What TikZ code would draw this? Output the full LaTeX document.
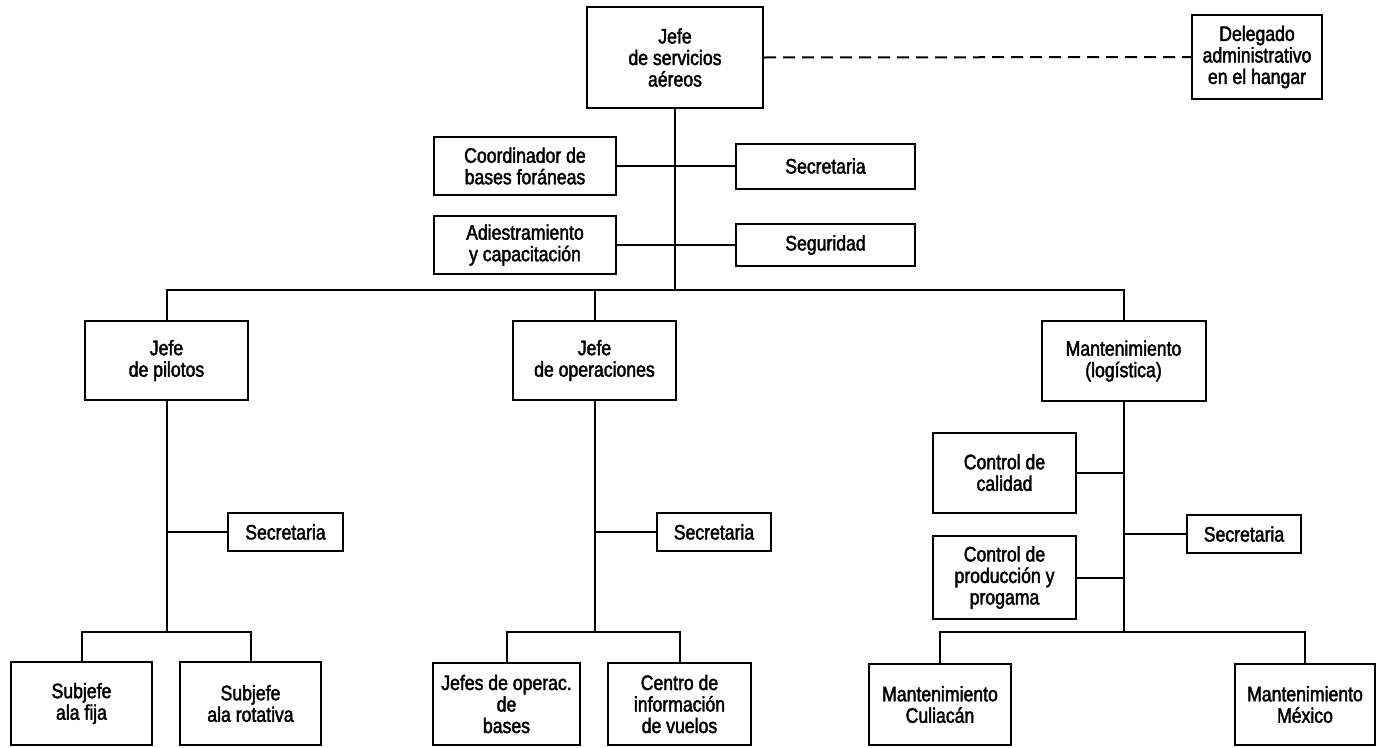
\documentclass[tikz,border=0pt]{standalone}
\usepackage{fontspec}
\setmainfont{Liberation Sans}[FakeStretch=0.84,FakeBold=2]
\begin{document}
\begin{tikzpicture}[x=1pt,y=-1pt,
  box/.style={draw,line width=2pt,align=center,inner sep=0pt,
    font=\fontsize{21}{21.5}\selectfont},
  link/.style={line width=2pt},
  dotted link/.style={line width=2pt,dash pattern=on 12pt off 7pt}]
\useasboundingbox (0,0) rectangle (1380,747);

% top level
\node[box,minimum width=176,minimum height=101] (jefe) at (675,57.5) {Jefe\\de servicios\\aéreos};
\node[box,minimum width=130,minimum height=84] (del) at (1257,57) {Delegado\\administrativo\\en el hangar};

% staff boxes under the head
\node[box,minimum width=182,minimum height=58] (coord) at (525,166) {Coordinador de\\bases foráneas};
\node[box,minimum width=179,minimum height=45] (sec) at (825.5,166) {Secretaria};
\node[box,minimum width=182,minimum height=58] (adi) at (525,245) {Adiestramiento\\y capacitación};
\node[box,minimum width=179,minimum height=42] (seg) at (825.5,245) {Seguridad};

% three departments
\node[box,minimum width=163,minimum height=79] (pil) at (166.5,360.5) {Jefe\\de pilotos};
\node[box,minimum width=163,minimum height=79] (ops) at (594.5,360.5) {Jefe\\de operaciones};
\node[box,minimum width=164,minimum height=80] (mant) at (1123.5,361) {Mantenimiento\\(logística)};

% secretaries
\node[box,minimum width=115,minimum height=38] (secP) at (285.5,532) {Secretaria};
\node[box,minimum width=114,minimum height=38] (secO) at (714,532) {Secretaria};
\node[box,minimum width=114,minimum height=38] (secM) at (1244,534) {Secretaria};

% maintenance staff
\node[box,minimum width=143,minimum height=80] (cal) at (1004.5,472.5) {Control de\\calidad};
\node[box,minimum width=143,minimum height=83] (prod) at (1004.5,577.5) {Control de\\producción y\\progama};

% bottom row
\node[box,minimum width=141,minimum height=83] (fija) at (81.5,703.5) {Subjefe\\ala fija};
\node[box,minimum width=141,minimum height=83] (rot) at (250.5,703.5) {Subjefe\\ala rotativa};
\node[box,minimum width=147,minimum height=82] (jop) at (506.5,704) {Jefes de operac.\\de\\bases};
\node[box,minimum width=143,minimum height=82] (cen) at (679.5,704) {Centro de\\información\\de vuelos};
\node[box,minimum width=142,minimum height=81] (cul) at (940,704.5) {Mantenimiento\\Culiacán};
\node[box,minimum width=140,minimum height=81] (mex) at (1305,704.5) {Mantenimiento\\México};

% junction points
\coordinate (bus) at (675,289.5);
\coordinate (subP) at (166.5,632);
\coordinate (subO) at (594.5,632);
\coordinate (subM) at (1123.5,632);

% connectors
\draw[dotted link] (jefe.east) -- (del.west);
\draw[link] (jefe.south) -- (bus);
\draw[link] (coord.east) -- (sec.west);
\draw[link] (adi.east) -- (seg.west);
\draw[link] (pil.north) |- (bus) -| (mant.north);
\draw[link] (ops.north) -- (ops.north |- bus);

\draw[link] (pil.south) -- (subP);
\draw[link] (secP.west) -- (secP.west -| subP);
\draw[link] (fija.north) |- (subP) -| (rot.north);

\draw[link] (ops.south) -- (subO);
\draw[link] (secO.west) -- (secO.west -| subO);
\draw[link] (jop.north) |- (subO) -| (cen.north);

\draw[link] (mant.south) -- (subM);
\draw[link] (cal.east) -- (cal.east -| subM);
\draw[link] (prod.east) -- (prod.east -| subM);
\draw[link] (secM.west) -- (secM.west -| subM);
\draw[link] (cul.north) |- (subM) -| (mex.north);
\end{tikzpicture}
\end{document}
